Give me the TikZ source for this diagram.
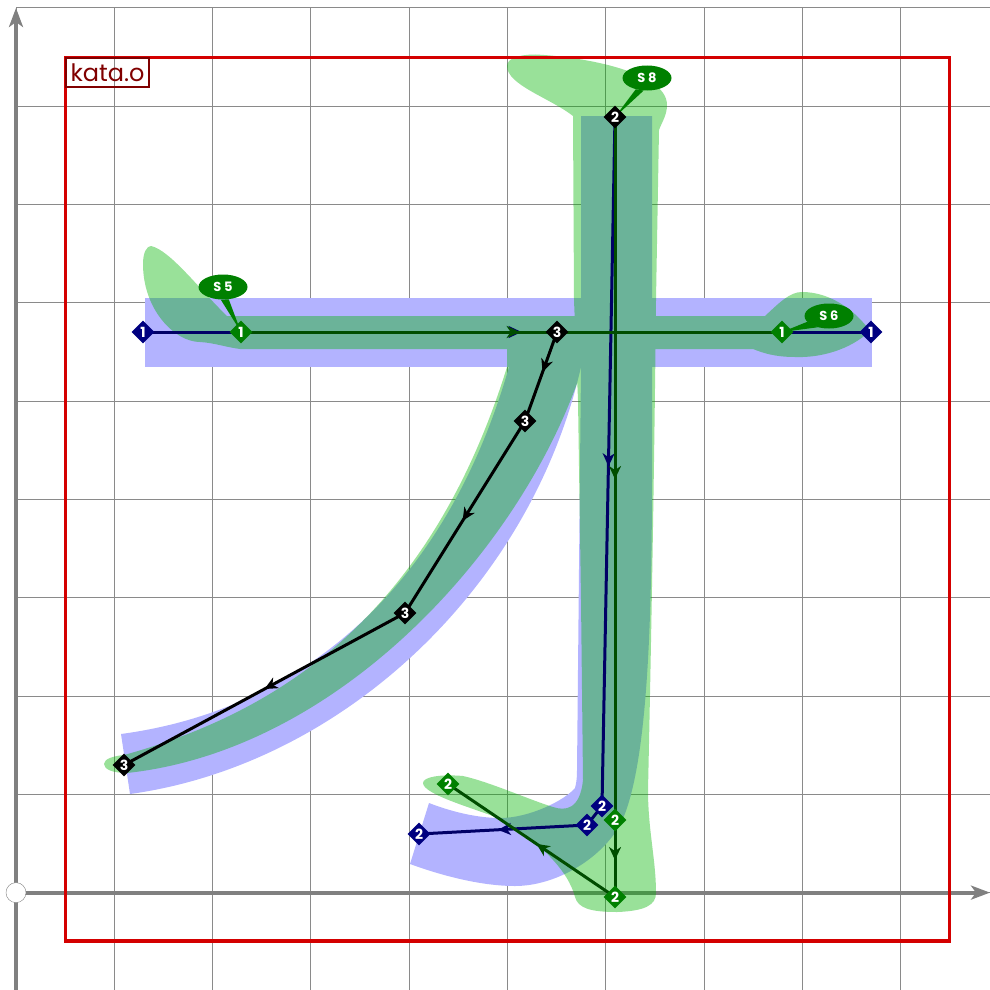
\documentclass[tikz,border=0pt]{standalone}
\usepackage{fontspec}
\setmainfont{Poppins}
\usepackage{xcolor}
\usetikzlibrary{arrows.meta,shapes.geometric,decorations.markings}
\definecolor{gridgray}{HTML}{8A8A8A}
\definecolor{axisgray}{HTML}{808080}
\definecolor{framered}{HTML}{D40000}
\definecolor{darkred}{HTML}{800000}
\definecolor{bluefill}{HTML}{B3B3FF}
\definecolor{greenfill}{HTML}{00B400}
\definecolor{navyline}{HTML}{000066}
\definecolor{navyknot}{HTML}{000080}
\definecolor{greenline}{HTML}{004D00}
\definecolor{greenknot}{HTML}{008000}
\pgfdeclarelayer{under}
\pgfsetlayers{under,main}
\tikzset{
  gridline/.style={draw=gridgray,line width=1pt},
  axisline/.style={draw=axisgray,line width=4pt},
  knot/.style={diamond,minimum size=23pt,inner sep=0pt,text=white,
    font=\fontsize{14}{14}\selectfont\bfseries},
  tag/.style={ellipse,fill=greenknot,minimum width=49pt,minimum height=25pt,inner sep=0pt,
    text=white,font=\fontsize{13}{13}\selectfont\bfseries},
  midarrow/.style={postaction={decorate},decoration={markings,
    mark=at position #1 with {\arrow{Stealth[length=13pt,width=12pt,inset=4pt]}}}},
  midarrow/.default=0.52,
  seg/.style={line width=3pt}
}
\begin{document}
\begin{tikzpicture}[x=1pt,y=-1pt]
\useasboundingbox (0,0) rectangle (990,990);
% axes
\node[circle,draw=axisgray,fill=white,minimum size=20pt,inner sep=0pt] (origin) at (16,892.6) {};
\coordinate (xend) at (990,892.6);
\coordinate (ytop) at (16,8);
\coordinate (ybot) at (16,990);
% label
\node[draw=darkred,line width=2pt,text=darkred,minimum width=83pt,minimum height=28pt,inner sep=0pt,
  font=\fontsize{24}{24}\selectfont] (name) at (107.5,72.5) {kata.o};
% strokes
\node[knot,fill=navyknot] (bl) at (143,332) {1};
\node[knot,fill=navyknot] (br) at (871,332) {1};
\node[knot,fill=greenknot] (gl) at (241,332) {1};
\node[knot,fill=greenknot] (gr) at (782,332) {1};
\node[knot,fill=black] (top) at (615,117) {2};
\node[knot,fill=navyknot] (bdown) at (602,806) {2};
\node[knot,fill=navyknot] (bturn) at (587,825) {2};
\node[knot,fill=navyknot] (bhook) at (419,834) {2};
\node[knot,fill=greenknot] (gdown) at (615,820) {2};
\node[knot,fill=greenknot] (gturn) at (615,897) {2};
\node[knot,fill=greenknot] (ghook) at (448,784) {2};
\node[knot,fill=black] (ca) at (557,332) {3};
\node[knot,fill=black] (cb) at (525,421) {3};
\node[knot,fill=black] (cc) at (405,613) {3};
\node[knot,fill=black] (cd) at (124,765) {3};
\node[tag] (sfive) at (223,287) {S 5};
\node[tag] (ssix) at (829,316) {S 6};
\node[tag] (seight) at (647,78) {S 8};
\begin{pgfonlayer}{under}
\foreach \k in {0,...,9} {
  \draw[gridline] ({16+98.3*\k},8) -- ({16+98.3*\k},990);
  \draw[gridline] (16,{892.6-98.3*\k}) -- (990,{892.6-98.3*\k});
}
\draw[axisline,-{Stealth[length=19pt,width=14pt,inset=5pt]}] (origin.center) -- (xend);
\draw[axisline,-{Stealth[length=19pt,width=14pt,inset=5pt]}] (ybot) -- (ytop);
% blue outlines
\fill[bluefill] (144.5,298) rectangle (871.5,367);
\fill[bluefill] (581,116) -- (652,116) -- (652,470) .. controls (652,620) and (648,770) .. (620,825)
  .. controls (600,860) and (555,886) .. (515,886) .. controls (480,886) and (440,875) .. (410,864)
  -- (429,803) .. controls (460,815) and (485,818) .. (500,818) .. controls (530,818) and (565,800) .. (575,788)
  .. controls (576,784) and (577,780) .. (577,770) -- (581,367) -- cycle;
\fill[bluefill] (581,367) .. controls (530,590) and (340,765) .. (130,794)
  -- (121,734) .. controls (300,710) and (445,590) .. (509,367) -- cycle;
% green outlines, one path so overlaps stay flat
\fill[greenfill,opacity=.4]
  (143,264) .. controls (143,252) and (147,246) .. (151,246) .. controls (170,250) and (200,290) .. (227,316)
  -- (765,316) .. controls (780,302) and (790,292) .. (802,292) .. controls (830,292) and (855,310) .. (870,331)
  .. controls (850,350) and (820,358) .. (795,357) .. controls (775,357) and (763,353) .. (753,349)
  -- (240,349) .. controls (225,347) and (215,343) .. (200,342) .. controls (175,342) and (143,310) .. (143,264) -- cycle
  (573,116) .. controls (550,98) and (507,85) .. (507,66) .. controls (507,58) and (520,54.5) .. (535,54.5)
  .. controls (575,56) and (667,70) .. (667,105) .. controls (667,115) and (662,122) .. (659,130)
  -- (656,300) .. controls (654,500) and (650,700) .. (648,790) .. controls (648,830) and (656,860) .. (656,893)
  .. controls (656,905) and (645,911) .. (617,912) .. controls (590,912) and (578,908) .. (575,897)
  .. controls (568,870) and (540,843) .. (503,820) .. controls (480,810) and (423,795) .. (423,783)
  .. controls (423,777) and (440,774) .. (463,776) .. controls (490,782) and (530,800) .. (553,807)
  .. controls (565,811) and (580,810) .. (583,780) -- (581,600) -- (578,400) -- (574,300) -- cycle
  (507,345) -- (583,345) -- (581,372) .. controls (522,548) and (340,750) .. (127,773)
  .. controls (112,773) and (104,769) .. (104,764) .. controls (104,759) and (113,756) .. (124,755)
  .. controls (280,712) and (430,615) .. (507,367) -- cycle;
\draw[framered,line width=3.2pt] (65.5,57.5) rectangle (949.5,941);
% connectors
\draw[seg,navyline,midarrow] (bl.center) -- (br.center);
\draw[seg,navyline,midarrow=.507] (top.center) -- (bdown.center);
\draw[seg,navyline] (bdown.center) -- (bturn.center);
\draw[seg,navyline,midarrow=.53] (bturn.center) -- (bhook.center);
\draw[seg,greenline,midarrow=.515] (gl.center) -- (gr.center);
\draw[seg,greenline,midarrow=.515] (top.center) -- (gdown.center);
\draw[seg,greenline,midarrow=.52] (gdown.center) -- (gturn.center);
\draw[seg,greenline,midarrow=.47] (gturn.center) -- (ghook.center);
\draw[seg,black,midarrow=.45] (ca.center) -- (cb.center);
\draw[seg,black,midarrow=.52] (cb.center) -- (cc.center);
\draw[seg,black,midarrow=.50] (cc.center) -- (cd.center);
% tag stems
\fill[greenknot] (sfive.-100) -- (sfive.-65) -- (gl.center) -- cycle;
\fill[greenknot] (ssix.195) -- (ssix.225) -- (gr.center) -- cycle;
\fill[greenknot] (seight.-135) -- (seight.-105) -- (top.center) -- cycle;
\end{pgfonlayer}
\end{tikzpicture}
\end{document}
